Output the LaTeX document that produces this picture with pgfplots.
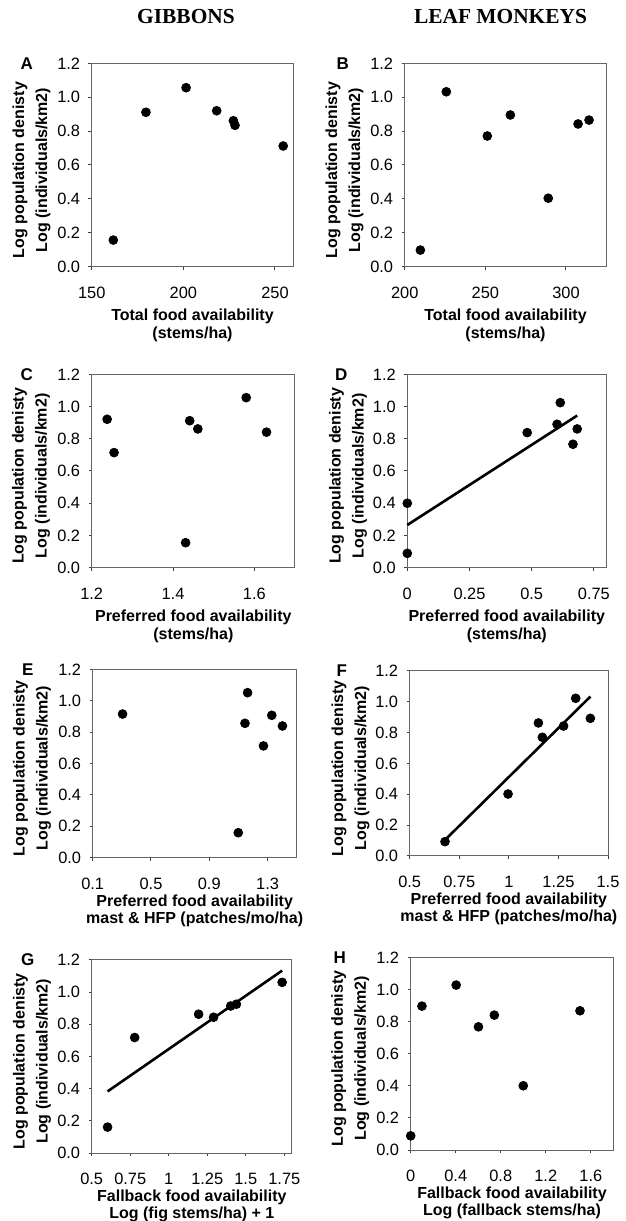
\documentclass[border=0pt]{standalone}
\usepackage{fontspec}
\setmainfont{Liberation Sans}
\newfontfamily\titlefont{Liberation Serif}
\usepackage{pgfplots}
\pgfplotsset{compat=1.18}
\pgfplotsset{
  panel/.style={
    scale only axis, anchor=south west, clip=false,
    ymin=0, ymax=1.2,
    ytick={0,0.2,0.4,0.6,0.8,1.0,1.2},
    yticklabels={0.0,0.2,0.4,0.6,0.8,1.0,1.2},
    tick align=outside, xtick pos=bottom, ytick pos=left,
    major tick length=1.6pt,
    tick style={black!75, line width=0.5pt},
    axis line style={black!60, line width=0.5pt},
    /pgf/number format/assume math mode=true,
    tick label style={font=\fontsize{8.2}{9}\selectfont, inner sep=0pt},
    yticklabel style={anchor=east, xshift=-4pt},
    xticklabel style={anchor=center, yshift=-11.5pt},
    ylabel style={at={(axis description cs:-0.298,0.475)}, anchor=center, align=center,
                  font=\fontsize{8}{11.5}\selectfont\bfseries},
    xlabel style={at={(axis description cs:0.5,0)}, anchor=north, align=center,
                  font=\fontsize{8}{9}\selectfont\bfseries, yshift=-17.5pt},
    ylabel={Log population denisty\\Log (individuals/km2)},
  },
  lowrow/.style={xlabel style={yshift=2.5pt, font=\fontsize{8}{8.4}\selectfont\bfseries}},
  dots/.style={only marks, mark=*, mark size=2.2pt, black},
  fit/.style={black, line width=1.3pt, mark=none},
}
\newcommand{\panelletter}[2]{\node[font=\fontsize{8.5}{9}\selectfont\bfseries, xshift=#1] at (rel axis cs:0,1) {#2};}
\begin{document}
\begin{tikzpicture}
\useasboundingbox (0,0) rectangle (313pt,610.5pt);
\node[font=\titlefont\bfseries\fontsize{10.7}{12}\selectfont] at (93pt,602pt) {GIBBONS};
\node[font=\titlefont\bfseries\fontsize{10.7}{12}\selectfont] at (250.25pt,602pt) {LEAF MONKEYS};

% A
\begin{axis}[panel, at={(45.85pt,477.15pt)}, width=100.8pt, height=101.7pt,
  xmin=150, xmax=260, xtick={150,200,250}, xticklabels={150,200,250},
  xlabel={Total food availability\\(stems/ha)}]
\addplot[dots] coordinates {(161.8,0.157) (179.6,0.911) (201.5,1.056) (218.2,0.920) (227.3,0.861) (228.2,0.834) (254.5,0.712)};
\panelletter{-32.5pt}{A}
\end{axis}

% B
\begin{axis}[panel, at={(202.35pt,477.15pt)}, width=100.8pt, height=101.7pt,
  xmin=200, xmax=325, xtick={200,250,300}, xticklabels={200,250,300},
  xlabel={Total food availability\\(stems/ha)}]
\addplot[dots] coordinates {(209.7,0.098) (225.8,1.032) (251.2,0.771) (265.5,0.895) (289.0,0.404) (307.5,0.842) (314.3,0.865)};
\panelletter{-31pt}{B}
\end{axis}

% C
\begin{axis}[panel, at={(45.85pt,326.65pt)}, width=101.65pt, height=96.7pt,
  xmin=1.2, xmax=1.7, xtick={1.2,1.4,1.6}, xticklabels={1.2,1.4,1.6},
  xlabel={Preferred food availability\\(stems/ha)}]
\addplot[dots] coordinates {(1.238,0.921) (1.255,0.714) (1.431,0.155) (1.441,0.912) (1.461,0.861) (1.580,1.055) (1.630,0.841)};
\panelletter{-32.5pt}{C}
\end{axis}

% D
\begin{axis}[panel, at={(203.65pt,326.65pt)}, width=99.5pt, height=96.7pt,
  xmin=0, xmax=0.8, xtick={0,0.25,0.5,0.75}, xticklabels={0,0.25,0.5,0.75},
  xlabel={Preferred food availability\\(stems/ha)}]
\addplot[dots] coordinates {(0,0.400) (0,0.089) (0.482,0.838) (0.602,0.890) (0.615,1.024) (0.666,0.766) (0.683,0.861)};
\addplot[fit] coordinates {(0,0.265) (0.683,0.944)};
\panelletter{-33pt}{D}
\end{axis}

% E
\begin{axis}[panel, lowrow, at={(46.35pt,181.65pt)}, width=102pt, height=94.2pt,
  xmin=0.1, xmax=1.5, xtick={0.1,0.5,0.9,1.3}, xticklabels={0.1,0.5,0.9,1.3},
  xlabel={Preferred food availability\\mast \& HFP (patches/mo/ha)}]
\addplot[dots] coordinates {(0.305,0.915) (1.099,0.159) (1.145,0.856) (1.163,1.051) (1.272,0.712) (1.329,0.907) (1.402,0.839)};
\panelletter{-32.5pt}{E}
\end{axis}

% F
\begin{axis}[panel, lowrow, at={(204.85pt,182.5pt)}, width=99.15pt, height=92.5pt,
  xmin=0.5, xmax=1.5, xtick={0.5,0.75,1,1.25,1.5}, xticklabels={0.5,0.75,1,1.25,1.5},
  xlabel={Preferred food availability\\mast \& HFP (patches/mo/ha)}]
\addplot[dots] coordinates {(0.678,0.093) (0.996,0.402) (1.149,0.863) (1.169,0.770) (1.276,0.843) (1.337,1.023) (1.411,0.893)};
\addplot[fit] coordinates {(0.678,0.104) (1.411,1.034)};
\panelletter{-34pt}{F}
\end{axis}

% G
\begin{axis}[panel, lowrow, at={(45.85pt,34pt)}, width=100.15pt, height=96.5pt,
  xmin=0.5, xmax=1.8, xtick={0.5,0.75,1,1.25,1.5,1.75}, xticklabels={0.5,0.75,1,1.25,1.5,1.75},
  xlabel={Fallback food availability\\Log (fig stems/ha) + 1}]
\addplot[dots] coordinates {(0.603,0.161) (0.779,0.718) (1.194,0.863) (1.291,0.844) (1.402,0.914) (1.439,0.925) (1.736,1.061)};
\addplot[fit] coordinates {(0.603,0.383) (1.736,1.134)};
\panelletter{-32pt}{G}
\end{axis}

% H
\begin{axis}[panel, lowrow, at={(205.35pt,35.5pt)}, width=101.3pt, height=96.35pt,
  xmin=0, xmax=1.8, xtick={0,0.4,0.8,1.2,1.6}, xticklabels={0,0.4,0.8,1.2,1.6},
  xlabel={Fallback food availability\\Log (fallback stems/ha)}]
\addplot[dots] coordinates {(0,0.088) (0.100,0.896) (0.404,1.027) (0.602,0.767) (0.743,0.840) (1.000,0.400) (1.504,0.867)};
\panelletter{-35.5pt}{H}
\end{axis}
\end{tikzpicture}
\end{document}
